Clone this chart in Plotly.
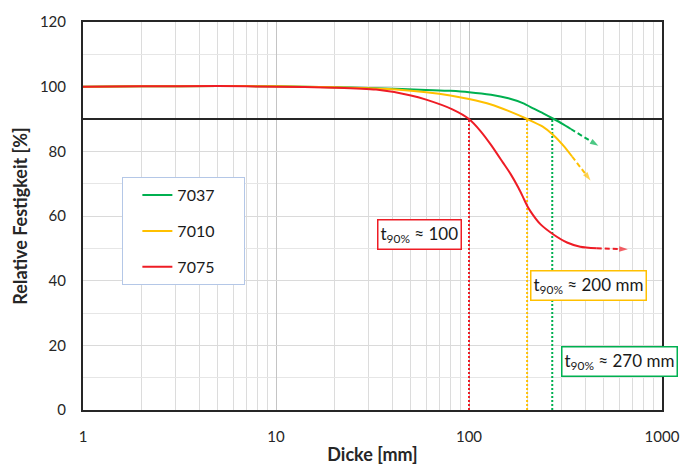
import plotly.graph_objects as go

# ---------------- data ----------------
alloys = ["7037", "7010", "7075"]
colors = {"7037": "#00b050", "7010": "#ffc000", "7075": "#ee1c25"}

x_7037 = [1, 2, 5, 10, 20, 30, 45, 60, 80, 100, 130, 160, 190, 218, 245, 275, 305, 337]
y_7037 = [100, 100.1, 100.2, 100.1, 99.8, 99.6, 99.3, 99.0, 98.7, 98.3, 97.5, 96.4, 94.9, 93.1, 91.6, 90, 88.5, 86.9]
x_7037_ext = [337, 468]
y_7037_ext = [86.9, 81.7]

x_7010 = [1, 2, 5, 10, 20, 30, 45, 60, 80, 100, 130, 160, 200, 240, 275, 310, 342]
y_7010 = [100, 100.1, 100.2, 100.1, 99.8, 99.5, 99.0, 98.3, 97.3, 96.2, 94.5, 92.5, 90, 87.7, 84.9, 81.6, 78.4]
x_7010_ext = [342, 426]
y_7010_ext = [78.4, 71]

x_7075 = [1, 2, 5, 10, 20, 33, 50, 60, 82, 100, 115, 130, 150, 165, 180, 190, 200, 213, 235, 275, 322, 377, 459]
y_7075 = [100, 100.1, 100.2, 100, 99.7, 99.1, 97.3, 96, 93, 90, 86.2, 82, 76.5, 72.8, 68.8, 66, 63.2, 60.6, 57.4, 54.2, 51.8, 50.5, 50]
x_7075_ext = [459, 665]
y_7075_ext = [50, 49.7]

threshold = 90
t90 = {"7037": 270, "7010": 200, "7075": 100}
t90_labels = {"7075": "t<sub>90%</sub> ≈ 100",
              "7010": "t<sub>90%</sub> ≈ 200 mm",
              "7037": "t<sub>90%</sub> ≈ 270 mm"}
label_pos = {"7075": (0.5815, 0.452), "7010": (0.873, 0.32), "7037": (0.926, 0.125)}

x_ticks = [1, 10, 100, 1000]
y_ticks = [0, 20, 40, 60, 80, 100, 120]

series = {
    "7037": (x_7037, y_7037, x_7037_ext, y_7037_ext),
    "7010": (x_7010, y_7010, x_7010_ext, y_7010_ext),
    "7075": (x_7075, y_7075, x_7075_ext, y_7075_ext),
}

FONT = "Lato"
PAD = "\u00a0" * 6

fig = go.Figure()

# threshold line
fig.add_trace(go.Scatter(x=[x_ticks[0], x_ticks[-1]], y=[threshold, threshold], mode="lines",
                         line=dict(color="#262626", width=2), showlegend=False, hoverinfo="skip"))

# vertical dotted lines
for a in alloys:
    fig.add_trace(go.Scatter(x=[t90[a], t90[a]], y=[0, threshold], mode="lines",
                             line=dict(color=colors[a], width=2, dash="2px,2px"),
                             showlegend=False, hoverinfo="skip"))

for i, a in enumerate(alloys):
    xs, ys, xe, ye = series[a]
    fig.add_trace(go.Scatter(x=xs, y=ys, mode="lines", name=a + PAD,
                             line=dict(color=colors[a], width=2, shape="spline", smoothing=0.7),
                             legendgroup=a, legendrank=i))
    fig.add_trace(go.Scatter(x=xe, y=ye, mode="lines+markers",
                             line=dict(color=colors[a], width=2, dash="5px,3px"),
                             marker=dict(symbol="arrow", size=[0, 9], angleref="previous",
                                         color=colors[a], line=dict(width=0)),
                             showlegend=False, legendgroup=a, hoverinfo="skip"))

for a in alloys:
    px, py = label_pos[a]
    fig.add_annotation(x=px, y=py, xref="paper", yref="paper", text=t90_labels[a],
                       showarrow=False, font=dict(family=FONT, size=17, color="#1a1a1a"),
                       bordercolor=colors[a], borderwidth=1.5, borderpad=2, bgcolor="white",
                       xanchor="center", yanchor="middle")

fig.update_layout(
    width=692, height=474,
    margin=dict(l=83, r=23, t=21, b=59),
    paper_bgcolor="white", plot_bgcolor="white",
    font=dict(family=FONT, size=15, color="#262626"),
    legend=dict(x=0.068, y=0.60, xanchor="left", yanchor="top",
                bordercolor="#b4c7e7", borderwidth=1, bgcolor="white",
                font=dict(family=FONT, size=16, color="#1a1a1a"),
                tracegroupgap=12, traceorder="grouped", indentation=14, itemwidth=30),
    xaxis=dict(type="log", range=[0, 3], tickvals=x_ticks, ticktext=[str(v) for v in x_ticks],
               showline=True, linecolor="#262626", linewidth=2, mirror=True,
               showgrid=True, gridcolor="#c4c4c4", gridwidth=1,
               minor=dict(dtick="D1", showgrid=True, gridcolor="#dcdcdc", gridwidth=1),
               ticks="outside", ticklen=12, tickcolor="rgba(0,0,0,0)",
               tickfont=dict(size=15), zeroline=False,
               title=dict(text="<b>Dicke [mm]</b>", font=dict(size=18), standoff=4)),
    yaxis=dict(range=[0, 120], tickvals=y_ticks,
               showline=True, linecolor="#262626", linewidth=2, mirror=True,
               showgrid=True, gridcolor="#dadada", gridwidth=1,
               minor=dict(dtick=10, showgrid=True, gridcolor="#e6e6e6", gridwidth=1),
               ticks="outside", ticklen=12, tickcolor="rgba(0,0,0,0)",
               tickfont=dict(size=15), zeroline=False,
               title=dict(text="<b>Relative Festigkeit [%]</b>", font=dict(size=18), standoff=8)),
)

fig.write_html("out.html")
